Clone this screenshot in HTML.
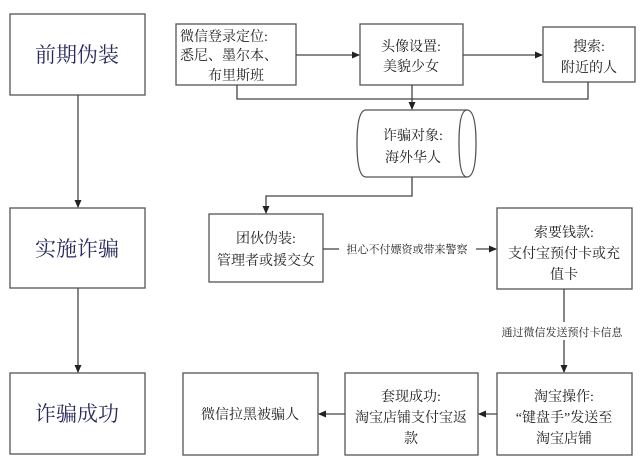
<!DOCTYPE html>
<html><head><meta charset="utf-8"><style>
html,body{margin:0;padding:0;background:#fff;}
svg{display:block;}
text{font-family:"Liberation Serif","Noto Serif CJK SC","Noto Sans CJK SC",serif;fill:#222;}
.t{font-size:21px;fill:#2a2a5e;}
.n{font-size:14px;}
.s{font-size:11px;}
</style></head><body>
<svg width="640" height="463" viewBox="0 0 640 463" xmlns="http://www.w3.org/2000/svg">
<defs><marker id="a" markerWidth="8" markerHeight="8" refX="7" refY="4" orient="auto" markerUnits="userSpaceOnUse"><path d="M0,0.5 L8,4 L0,7.5 z" fill="#222"/></marker></defs>
<g fill="#fff" stroke="#555" stroke-width="1.3">
<rect x="10" y="14" width="135" height="81"/>
<rect x="10" y="208" width="135" height="80"/>
<rect x="10" y="373" width="135" height="81"/>
<rect x="176" y="24" width="120" height="61"/>
<rect x="360" y="24" width="103" height="61"/>
<rect x="543" y="27" width="92" height="55"/>
<rect x="209" y="214" width="114" height="68"/>
<rect x="497" y="208" width="135" height="81"/>
<rect x="497" y="373" width="135" height="82"/>
<rect x="345" y="373" width="133" height="82"/>
<rect x="183" y="373" width="135" height="82"/>
<path d="M366,110 L467,110 Q476,110 476,143 Q476,177 467,177 L366,177 Q357,177 357,143 Q357,110 366,110 Z"/>
<path d="M467,110 Q459,110 459,143 Q459,177 467,177" fill="none"/>
</g>
<g stroke="#444" stroke-width="1.3" fill="none">
<line x1="78" y1="95" x2="78" y2="207" marker-end="url(#a)"/>
<line x1="78" y1="288" x2="78" y2="372" marker-end="url(#a)"/>
<line x1="296" y1="55" x2="359" y2="55" marker-end="url(#a)"/>
<line x1="463" y1="55" x2="542" y2="55" marker-end="url(#a)"/>
<polyline points="237,85 237,99 588,99 588,82"/>
<line x1="412" y1="85" x2="412" y2="109" marker-end="url(#a)"/>
<polyline points="412,177 412,196 266,196 266,213" marker-end="url(#a)"/>
<line x1="323" y1="249" x2="339" y2="249"/>
<line x1="476" y1="249" x2="496" y2="249" marker-end="url(#a)"/>
<line x1="564" y1="289" x2="564" y2="322"/>
<line x1="564" y1="340" x2="564" y2="372" marker-end="url(#a)"/>
<line x1="497" y1="414" x2="479" y2="414" marker-end="url(#a)"/>
<line x1="345" y1="414" x2="319" y2="414" marker-end="url(#a)"/>
</g>
<text class="t" x="77" y="62" text-anchor="middle">前期伪装</text>
<text class="t" x="77" y="256" text-anchor="middle">实施诈骗</text>
<text class="t" x="77" y="421" text-anchor="middle">诈骗成功</text>
<g class="n">
<text x="180" y="41">微信登录定位:</text>
<text x="180" y="60">悉尼、墨尔本、</text>
<text x="236" y="80" text-anchor="middle">布里斯班</text>
<text x="411" y="51" text-anchor="middle">头像设置:</text>
<text x="411" y="71" text-anchor="middle">美貌少女</text>
<text x="589" y="51" text-anchor="middle">搜索:</text>
<text x="589" y="72" text-anchor="middle">附近的人</text>
<text x="413" y="140" text-anchor="middle">诈骗对象:</text>
<text x="413" y="162" text-anchor="middle">海外华人</text>
<text x="266" y="243" text-anchor="middle">团伙伪装:</text>
<text x="266" y="265" text-anchor="middle">管理者或援交女</text>
<text x="564" y="237" text-anchor="middle">索要钱款:</text>
<text x="564" y="258" text-anchor="middle">支付宝预付卡或充</text>
<text x="564" y="279" text-anchor="middle">值卡</text>
<text x="564" y="401" text-anchor="middle">淘宝操作:</text>
<text x="564" y="422" text-anchor="middle">“键盘手”发送至</text>
<text x="564" y="443" text-anchor="middle">淘宝店铺</text>
<text x="411" y="401" text-anchor="middle">套现成功:</text>
<text x="411" y="422" text-anchor="middle">淘宝店铺支付宝返</text>
<text x="411" y="443" text-anchor="middle">款</text>
<text x="250" y="419" text-anchor="middle">微信拉黑被骗人</text>
</g>
<text class="s" x="407" y="253" text-anchor="middle">担心不付嫖资或带来警察</text>
<text class="s" x="562" y="336" text-anchor="middle">通过微信发送预付卡信息</text>
</svg>
</body></html>
